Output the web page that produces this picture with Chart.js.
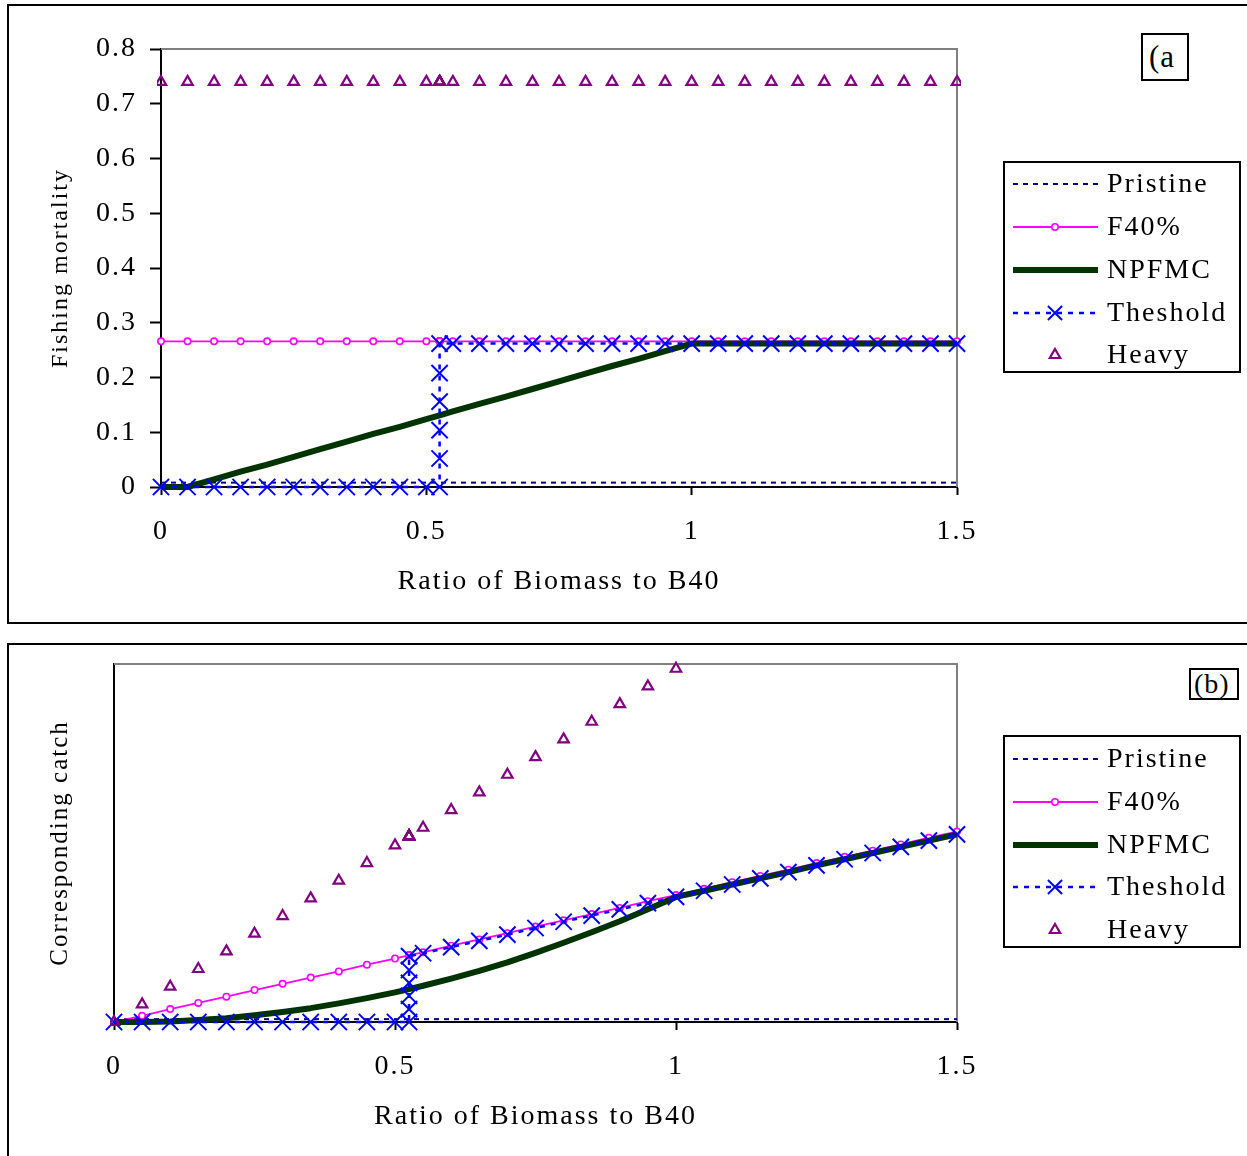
<!DOCTYPE html>
<html>
<head>
<meta charset="utf-8">
<script src="https://cdn.jsdelivr.net/npm/chart.js@4.4.1/dist/chart.umd.min.js"></script>
<style>
  html, body { margin: 0; padding: 0; background: #fff; }
  body { width: 1247px; height: 1156px; overflow: hidden; position: relative; font-family: 'Liberation Serif', serif; }
  .panel { position: absolute; border: 2px solid #000; box-sizing: border-box; }
  #panelA { left: 7px; top: 4px; width: 1260px; height: 620px; }
  #panelB { left: 7px; top: 643px; width: 1260px; height: 540px; }
  canvas { position: absolute; left: 0; }
  #chartA { top: 0; }
  #chartB { top: 640px; }
  .tag { position: absolute; border: 2px solid #000; box-sizing: border-box; background: #fff; letter-spacing: 1px; color: #000; }
  #tagA { left: 1141px; top: 33px; width: 48px; height: 48px; font-size: 31px; line-height: 44px; padding-left: 6px; }
  #tagB { left: 1189px; top: 668px; width: 50px; height: 32px; font-size: 28px; line-height: 28px; padding-left: 3px; }
</style>
</head>
<body>
<div class="panel" id="panelA"></div>
<div class="panel" id="panelB"></div>
<canvas id="chartA" width="1247" height="630"></canvas>
<canvas id="chartB" width="1247" height="525"></canvas>
<div class="tag" id="tagA">(a</div>
<div class="tag" id="tagB">(b)</div>
<script>
// series names, in legend order
const names = ['Pristine', 'F40%', 'NPFMC', 'Theshold', 'Heavy'];

// ratio of biomass to B40 (0.525 repeated: threshold step)
const xVals = [0, 0.05, 0.1, 0.15, 0.2, 0.25, 0.3, 0.35, 0.4, 0.45, 0.5,
  0.525, 0.525, 0.525, 0.525, 0.525, 0.525,
  0.55, 0.6, 0.65, 0.7, 0.75, 0.8, 0.85, 0.9, 0.95, 1,
  1.05, 1.1, 1.15, 1.2, 1.25, 1.3, 1.35, 1.4, 1.45, 1.5];
const pristineX = [0, 1.5];

const xTicks = [0, 0.5, 1, 1.5];
const xTickLabels = ['0', '0.5', '1', '1.5'];
const yTicksA = [0, 0.1, 0.2, 0.3, 0.4, 0.5, 0.6, 0.7, 0.8];
const yTickLabelsA = ['0', '0.1', '0.2', '0.3', '0.4', '0.5', '0.6', '0.7', '0.8'];

// (a) fishing mortality
const pristineF = [0.008, 0.008];
const f40F = [0.266, 0.266, 0.266, 0.266, 0.266, 0.266, 0.266, 0.266, 0.266, 0.266, 0.266,
  0.266, 0.266, 0.266, 0.266, 0.266, 0.266,
  0.266, 0.266, 0.266, 0.266, 0.266, 0.266, 0.266, 0.266, 0.266, 0.266,
  0.266, 0.266, 0.266, 0.266, 0.266, 0.266, 0.266, 0.266, 0.266, 0.266];
const npfmcF = [0, 0, 0.014, 0.028, 0.041, 0.055, 0.069, 0.083, 0.097, 0.110, 0.124,
  0.131, 0.131, 0.131, 0.131, 0.131, 0.131,
  0.138, 0.152, 0.165, 0.179, 0.193, 0.207, 0.221, 0.234, 0.248, 0.262,
  0.262, 0.262, 0.262, 0.262, 0.262, 0.262, 0.262, 0.262, 0.262, 0.262];
const thresholdF = [0, 0, 0, 0, 0, 0, 0, 0, 0, 0, 0,
  0, 0.052, 0.104, 0.156, 0.208, 0.262,
  0.262, 0.262, 0.262, 0.262, 0.262, 0.262, 0.262, 0.262, 0.262, 0.262,
  0.262, 0.262, 0.262, 0.262, 0.262, 0.262, 0.262, 0.262, 0.262, 0.262];
const heavyF = [0.74, 0.74, 0.74, 0.74, 0.74, 0.74, 0.74, 0.74, 0.74, 0.74, 0.74,
  0.74, 0.74, 0.74, 0.74, 0.74, 0.74,
  0.74, 0.74, 0.74, 0.74, 0.74, 0.74, 0.74, 0.74, 0.74, 0.74,
  0.74, 0.74, 0.74, 0.74, 0.74, 0.74, 0.74, 0.74, 0.74, 0.74];

// (b) corresponding catch
const pristineC = [0.006, 0.006];
const f40C = [0, 0.013, 0.027, 0.040, 0.053, 0.067, 0.080, 0.093, 0.106, 0.120, 0.133,
  0.140, 0.140, 0.140, 0.140, 0.140, 0.140,
  0.146, 0.160, 0.173, 0.186, 0.200, 0.213, 0.226, 0.239, 0.253, 0.266,
  0.279, 0.293, 0.306, 0.319, 0.333, 0.346, 0.359, 0.372, 0.386, 0.399];
const npfmcC = [0, 0, 0.001, 0.004, 0.008, 0.014, 0.021, 0.029, 0.039, 0.050, 0.062,
  0.069, 0.069, 0.069, 0.069, 0.069, 0.069,
  0.076, 0.091, 0.107, 0.125, 0.145, 0.166, 0.188, 0.211, 0.236, 0.262,
  0.275, 0.288, 0.301, 0.314, 0.328, 0.341, 0.354, 0.367, 0.380, 0.393];
const thresholdC = [0, 0, 0, 0, 0, 0, 0, 0, 0, 0, 0,
  0, 0.027, 0.055, 0.082, 0.109, 0.138,
  0.144, 0.157, 0.170, 0.183, 0.197, 0.210, 0.223, 0.236, 0.249, 0.262,
  0.275, 0.288, 0.301, 0.314, 0.328, 0.341, 0.354, 0.367, 0.380, 0.393];
const heavyC = [0, 0.037, 0.074, 0.111, 0.148, 0.185, 0.222, 0.259, 0.296, 0.333, 0.370,
  0.389, 0.389, 0.389, 0.389, 0.389, 0.389,
  0.407, 0.444, 0.481, 0.518, 0.555, 0.592, 0.629, 0.666, 0.703, 0.740,
  0.777, 0.814, 0.851, 0.888, 0.925, 0.962, 0.999, 1.036, 1.073, 1.110];

Chart.defaults.font.family = "'Liberation Serif', 'Times New Roman', serif";
Chart.defaults.color = '#000';

function pts(xs, ys) {
  return ys.map((y, i) => ({ x: xs[i], y: y }));
}

function datasets(pr, f40, npf, thr, hv) {
  return [
    { label: names[0], data: pts(pristineX, pr), showLine: true, borderColor: '#000080', borderWidth: 2,
      borderDash: [5, 5], pointRadius: 0, order: 4, clip: 12 },
    { label: names[1], data: pts(xVals, f40), showLine: true, borderColor: '#ff00ff', borderWidth: 1.8,
      pointStyle: 'circle', pointRadius: 3.2, pointBorderWidth: 1.6, pointBorderColor: '#ff00ff',
      pointBackgroundColor: '#ffffff', order: 3, clip: 12 },
    { label: names[2], data: pts(xVals, npf), showLine: true, borderColor: '#003300', borderWidth: 6,
      borderJoinStyle: 'round', pointRadius: 0, order: 2, clip: 12 },
    { label: names[3], data: pts(xVals, thr), showLine: true, borderColor: '#0000ff', borderWidth: 2.5,
      borderDash: [5, 6], pointStyle: 'crossRot', pointRadius: 11.5, pointBorderWidth: 2,
      pointBorderColor: '#0000ff', order: 1, clip: 12 },
    { label: names[4], data: pts(xVals, hv), showLine: false, borderColor: '#800080',
      pointStyle: 'triangle', pointRadius: 6, pointBorderWidth: 2.2, pointBorderColor: '#800080',
      pointBackgroundColor: 'rgba(0,0,0,0)', order: 0, clip: 4 }
  ];
}

// gray top/right frame of the plot area
const framePlugin = {
  id: 'frame',
  beforeDatasetsDraw(chart) {
    const { ctx, chartArea: a } = chart;
    ctx.save();
    ctx.strokeStyle = '#808080';
    ctx.lineWidth = 2;
    ctx.beginPath();
    ctx.moveTo(a.left, a.top);
    ctx.lineTo(a.right, a.top);
    ctx.lineTo(a.right, a.bottom);
    ctx.stroke();
    ctx.restore();
  }
};

const spacingPlugin = {
  id: 'spacing',
  beforeDraw(chart) { chart.ctx.letterSpacing = '2px'; }
};

// boxed legend with line + marker samples
const boxLegend = {
  id: 'boxLegend',
  afterDraw(chart, args, opts) {
    const ctx = chart.ctx;
    ctx.save();
    ctx.strokeStyle = '#000';
    ctx.lineWidth = 2;
    ctx.strokeRect(opts.x, opts.y, opts.w, opts.h);
    chart.data.datasets.forEach((ds, i) => {
      const cy = opts.y + opts.rows[i];
      ctx.save();
      if (ds.showLine) {
        ctx.strokeStyle = ds.borderColor;
        ctx.lineWidth = ds.borderWidth;
        ctx.setLineDash(ds.borderDash || []);
        ctx.beginPath();
        ctx.moveTo(opts.x + 9, cy);
        ctx.lineTo(opts.x + 94, cy);
        ctx.stroke();
      }
      if (ds.pointRadius > 0) {
        ctx.setLineDash([]);
        ctx.strokeStyle = ds.pointBorderColor;
        ctx.fillStyle = ds.pointBackgroundColor || 'rgba(0,0,0,0)';
        ctx.lineWidth = ds.pointBorderWidth;
        const r = ds.pointStyle === 'crossRot' ? 10 : ds.pointRadius;
        Chart.helpers.drawPoint(ctx, { pointStyle: ds.pointStyle, radius: r, borderWidth: ds.pointBorderWidth, rotation: 0 }, opts.x + 51, cy);
      }
      ctx.restore();
      ctx.fillStyle = '#000';
      ctx.font = "28px 'Liberation Serif', serif";
      ctx.textBaseline = 'middle';
      ctx.textAlign = 'left';
      ctx.fillText(ds.label, opts.x + 103, cy + 1);
    });
    ctx.restore();
  }
};

function xScale() {
  return {
    type: 'linear', min: 0, max: 1.5,
    afterBuildTicks: s => { s.ticks = xTicks.map(v => ({ value: v })); },
    afterFit: s => { s.height = 143; },
    grid: { drawOnChartArea: false, tickLength: 8, tickColor: '#000', tickWidth: 2 },
    border: { color: '#000', width: 2 },
    ticks: { font: { size: 28 }, padding: 20, maxRotation: 0,
      callback: (v, i) => xTickLabels[i] },
    title: { display: true, text: 'Ratio of Biomass to B40', font: { size: 28 }, padding: { top: 0, bottom: 32 } }
  };
}

new Chart(document.getElementById('chartA'), {
  type: 'scatter',
  data: { datasets: datasets(pristineF, f40F, npfmcF, thresholdF, heavyF) },
  options: {
    responsive: false, animation: false, devicePixelRatio: 1,
    layout: { padding: { left: 0, top: 49, right: 290, bottom: 0 } },
    plugins: {
      legend: { display: false }, tooltip: { enabled: false },
      boxLegend: { x: 1004, y: 162, w: 236, h: 210, rows: [22, 65, 108, 151, 193] }
    },
    scales: {
      x: xScale(),
      y: {
        min: 0, max: 0.8,
        afterBuildTicks: s => { s.ticks = yTicksA.map(v => ({ value: v })); },
        afterFit: s => { s.width = 161; },
        grid: { drawOnChartArea: false, tickLength: 11, tickColor: '#000', tickWidth: 2 },
        border: { color: '#000', width: 2 },
        ticks: { font: { size: 28 }, padding: 13, callback: (v, i) => yTickLabelsA[i] },
        title: { display: true, text: 'Fishing mortality', font: { size: 24 }, padding: { top: 46, bottom: 0 } }
      }
    }
  },
  plugins: [spacingPlugin, framePlugin, boxLegend]
});

new Chart(document.getElementById('chartB'), {
  type: 'scatter',
  data: { datasets: datasets(pristineC, f40C, npfmcC, thresholdC, heavyC) },
  options: {
    responsive: false, animation: false, devicePixelRatio: 1,
    layout: { padding: { left: 0, top: 24, right: 290, bottom: 0 } },
    plugins: {
      legend: { display: false }, tooltip: { enabled: false },
      boxLegend: { x: 1004, y: 96, w: 236, h: 211, rows: [23, 66, 109, 151, 194] }
    },
    scales: {
      x: xScale(),
      y: {
        min: 0, max: 0.75,
        afterFit: s => { s.width = 114; },
        grid: { drawOnChartArea: false, drawTicks: false },
        border: { color: '#000', width: 2 },
        ticks: { display: false },
        title: { display: true, text: 'Corresponding catch', font: { size: 25 }, padding: { top: 45, bottom: 0 } }
      }
    }
  },
  plugins: [spacingPlugin, framePlugin, boxLegend]
});
</script>
</body>
</html>
